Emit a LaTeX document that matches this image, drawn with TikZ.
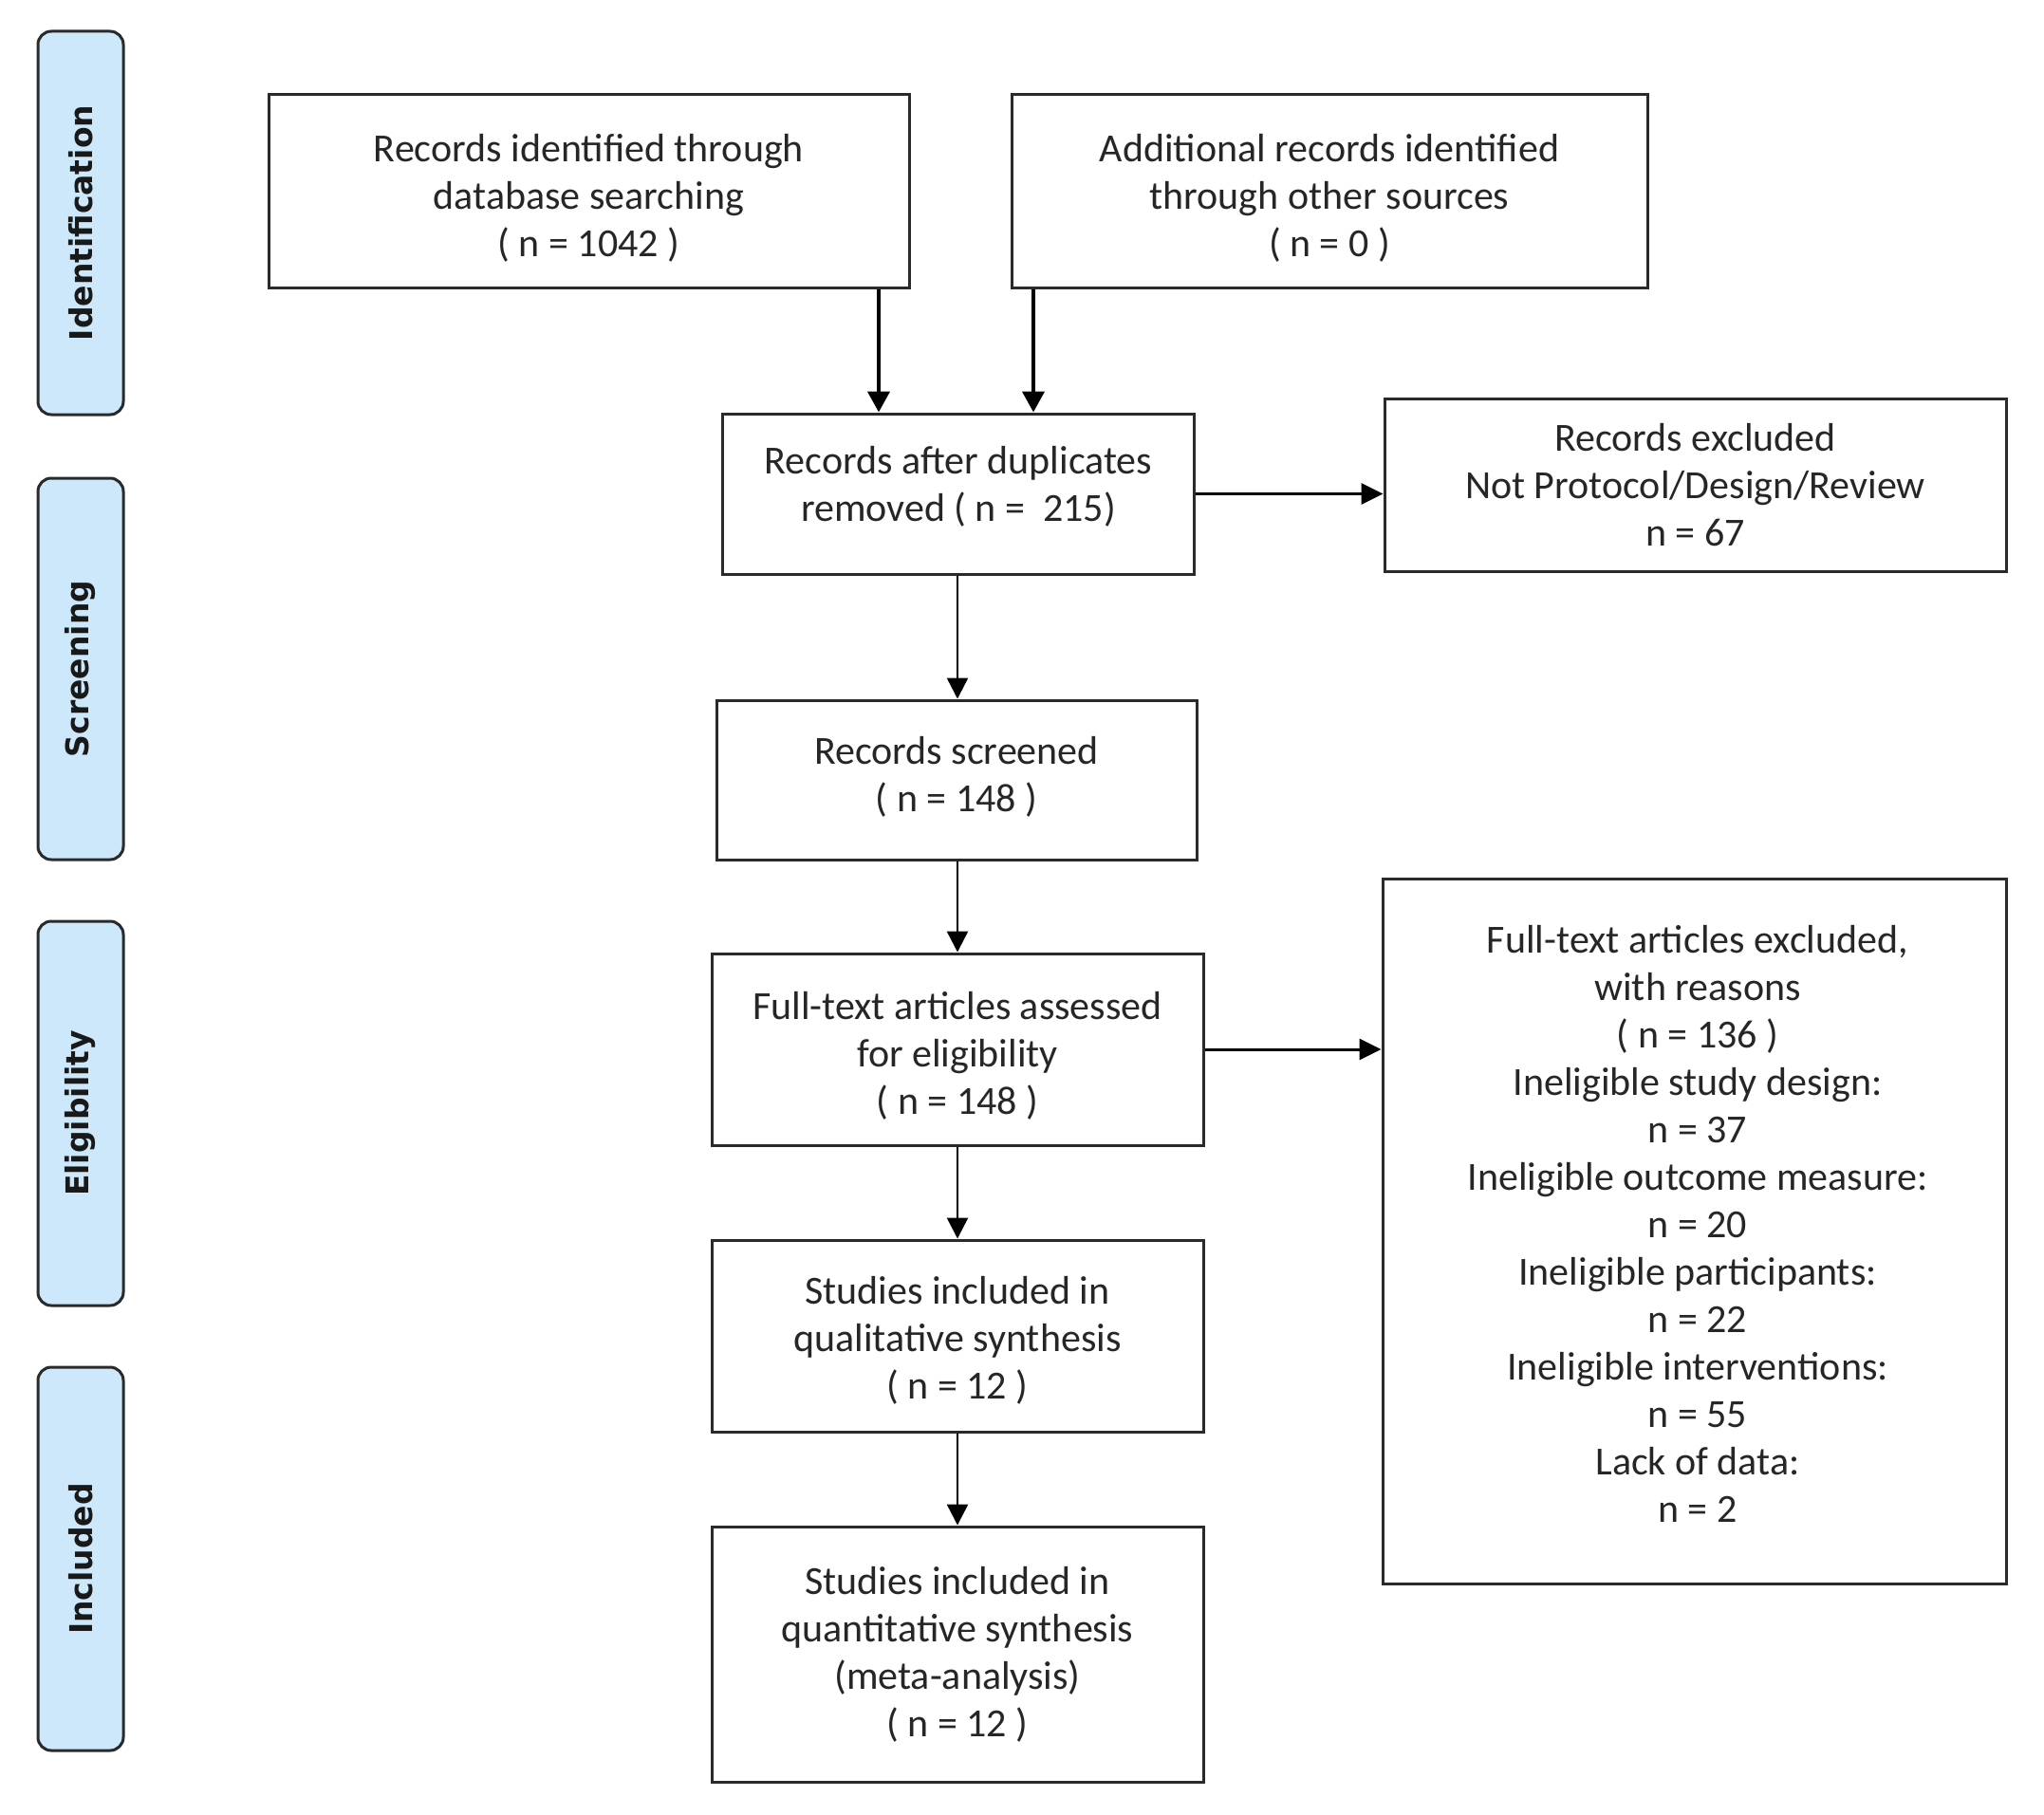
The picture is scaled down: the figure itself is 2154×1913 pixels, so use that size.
\documentclass[tikz,border=0pt]{standalone}
\usepackage{fontspec}
\setmainfont{Carlito}
\newfontfamily\lanefont{DejaVu Sans}
\usetikzlibrary{arrows.meta}
\definecolor{lanefill}{HTML}{CCE8FA}
\definecolor{boxline}{HTML}{2A2A2A}
\tikzset{
  stagebox/.style={draw=boxline, line width=3pt, fill=white, inner sep=0pt},
  boxtext/.style={align=center, inner sep=0pt, font=\fontsize{42}{50}\selectfont, text=black!85},
  lanebox/.style={draw=boxline, line width=3pt, fill=lanefill, rounded corners=14pt, inner sep=0pt,
    minimum width=90pt},
  lanelabel/.style={rotate=90, font=\lanefont\bfseries\fontsize{33}{38}\selectfont, text=black!90},
  flow/.style={draw=black, line width=2.5pt, -{Triangle[length=22pt,width=22pt]}},
  flowthick/.style={draw=black, line width=4pt, -{Triangle[length=22pt,width=23pt]}},
  flowh/.style={draw=black, line width=3pt, -{Triangle[length=23pt,width=22pt]}}
}
\begin{document}
\begin{tikzpicture}[x=1pt,y=-1pt]
\useasboundingbox[fill=white] (0,0) rectangle (2154,1913);
% lanes
\node[lanebox, minimum height=404pt] (l1) at (85,235) {};
\node[lanelabel] (t1) at (l1.center) {Identification};
\node[lanebox, minimum height=402pt] (l2) at (85,705) {};
\node[lanelabel] (t2) at (l2.center) {Screening};
\node[lanebox, minimum height=405pt] (l3) at (85,1173.5) {};
\node[lanelabel] (t3) at (l3.center) {Eligibility};
\node[lanebox, minimum height=404pt] (l4) at (85,1643) {};
\node[lanelabel] (t4) at (l4.center) {Included};
% boxes
\node[stagebox, minimum width=675pt, minimum height=203pt] (b1) at (620.5,201.5) {};
\node[boxtext] (b1t) at ([yshift=-7pt]b1.center) {Records identified through\\database searching\\( n = 1042 )};
\node[stagebox, minimum width=670pt, minimum height=203pt] (b2) at (1401,201.5) {};
\node[boxtext] (b2t) at ([yshift=-7pt]b2.center) {Additional records identified\\through other sources\\( n = 0 )};
\node[stagebox, minimum width=497pt, minimum height=169pt] (dup) at (1010,520.5) {};
\node[boxtext] (dupt) at ([yshift=8pt]dup.center) {Records after duplicates\\removed ( n = \ 215)};
\node[stagebox, minimum width=655pt, minimum height=182pt] (ex1) at (1786.5,511) {};
\node[boxtext] (ex1t) at (ex1.center) {Records excluded\\Not Protocol/Design/Review\\n = 67};
\node[stagebox, minimum width=506pt, minimum height=168pt] (scr) at (1008,822) {};
\node[boxtext] (scrt) at ([yshift=3pt]scr.center) {Records screened\\( n = 148 )};
\node[stagebox, minimum width=518pt, minimum height=202pt] (full) at (1009,1106) {};
\node[boxtext] (fullt) at ([yshift=-7pt]full.center) {Full-text articles assessed\\for eligibility\\( n = 148 )};
\node[stagebox, minimum width=657pt, minimum height=743pt] (ex2) at (1785.5,1297.5) {};
\node[boxtext] (ex2t) at (1789,1290)
  {Full-text articles excluded,\\with reasons\\( n = 136 )\\Ineligible study design:\\n = 37\\Ineligible outcome measure:\\n = 20\\Ineligible participants:\\n = 22\\Ineligible interventions:\\n = 55\\Lack of data:\\n = 2};
\node[stagebox, minimum width=518pt, minimum height=202pt] (qual) at (1009,1408) {};
\node[boxtext] (qualt) at ([yshift=-5pt]qual.center) {Studies included in\\qualitative synthesis\\( n = 12 )};
\node[stagebox, minimum width=518pt, minimum height=269pt] (quant) at (1009,1743.5) {};
\node[boxtext] (quantt) at (quant.center) {Studies included in\\quantitative synthesis\\(meta-analysis)\\( n = 12 )};
% connectors
\coordinate (c1) at (926,0);
\coordinate (c2) at (1089,0);
\coordinate (cm) at (1009,0);
\draw[flowthick] (b1.south -| c1) -- (dup.north -| c1);
\draw[flowthick] (b2.south -| c2) -- (dup.north -| c2);
\draw[flowh] (dup.east) -- (dup.east -| ex1.west);
\draw[flow] (dup.south -| cm) -- (scr.north -| cm);
\draw[flow] (scr.south -| cm) -- (full.north -| cm);
\draw[flowh] (full.east) -- (full.east -| ex2.west);
\draw[flow] (full.south -| cm) -- (qual.north -| cm);
\draw[flow] (qual.south -| cm) -- (quant.north -| cm);
\end{tikzpicture}
\end{document}
